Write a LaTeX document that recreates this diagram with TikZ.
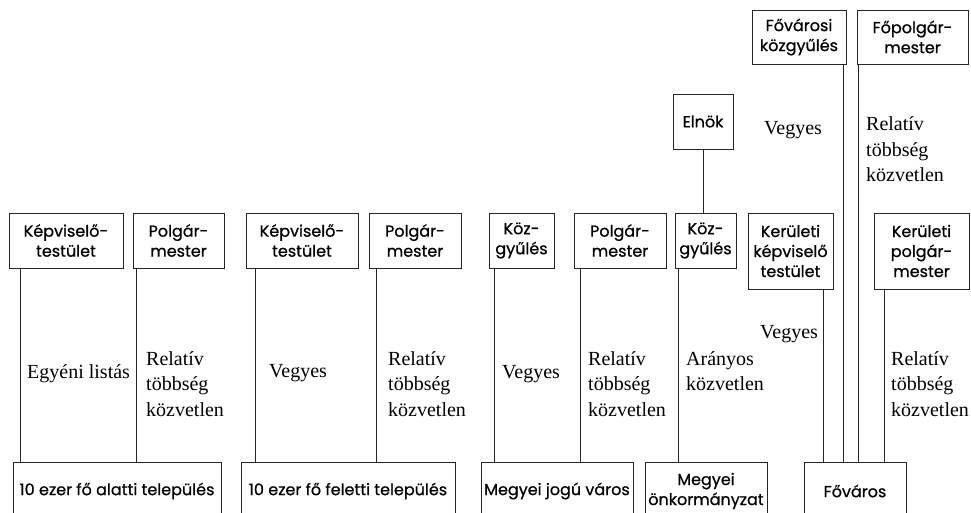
\documentclass[tikz,border=0pt]{standalone}
\usepackage{fontspec}
\setmainfont{Liberation Serif}
\newfontfamily\boxfont[FakeBold=0.7]{Poppins}
\begin{document}
\begin{tikzpicture}[x=1pt,y=-1pt,
  box/.style={draw=black!85, line width=0.9pt, align=center, inner sep=0pt, font=\boxfont\fontsize{16}{20}\selectfont},
  top/.style={box, minimum height=55},
  tall/.style={box, minimum height=76},
  bot/.style={box, minimum height=58},
  lbl/.style={anchor=base west, inner sep=0pt, align=left, font=\fontsize{20}{25.5}\selectfont},
  conn/.style={draw=black!85, line width=0.9pt}]
\useasboundingbox (0,0) rectangle (971,513);
\clip (0,0) rectangle (971,513);
% upper boxes
\node[top, minimum width=114] (A1) at (66,240.5) {Képviselő-\\testület};
\node[top, minimum width=91] (A2) at (178.5,240.5) {Polgár-\\mester};
\node[top, minimum width=112] (B1) at (302,240.5) {Képviselő-\\testület};
\node[top, minimum width=92] (B2) at (415,240.5) {Polgár-\\mester};
\node[top, minimum width=65] (C1) at (521.5,240.5) {Köz-\\gyűlés};
\node[top, minimum width=92] (C2) at (620,240.5) {Polgár-\\mester};
\node[top, minimum width=61] (D1) at (705.5,240.5) {Köz-\\gyűlés};
\node[tall, minimum width=85] (E1) at (790.5,251) {Kerületi\\képviselő\\testület};
\node[tall, minimum width=95] (E2) at (921.5,251) {Kerületi\\polgár-\\mester};
\node[top, minimum width=60] (EL) at (703,121.5) {Elnök};
\node[top, minimum width=94, minimum height=54] (FK) at (799,37) {Fővárosi\\közgyűlés};
\node[top, minimum width=111, minimum height=54] (FP) at (912.5,37) {Főpolgár-\\mester};
% lower boxes
\node[bot, minimum width=208] (X1) at (117,491) {10 ezer fő alatti település};
\node[bot, minimum width=214] (X2) at (348,491) {10 ezer fő feletti település};
\node[bot, minimum width=152] (X3) at (557,491) {Megyei jogú város};
\node[bot, minimum width=122] (X4) at (706,491) {Megyei\\önkormányzat};
\node[bot, minimum width=102] (X5) at (855,491) {Főváros};
% connectors
\draw[conn] ([xshift=12]A1.south west) -- ([xshift=12]A1.south west |- X1.north);
\draw[conn] ([xshift=4]A2.south west) -- ([xshift=4]A2.south west |- X1.north);
\draw[conn] ([xshift=10]B1.south west) -- ([xshift=10]B1.south west |- X2.north);
\draw[conn] ([xshift=8]B2.south west) -- ([xshift=8]B2.south west |- X2.north);
\draw[conn] ([xshift=6]C1.south west) -- ([xshift=6]C1.south west |- X3.north);
\draw[conn] ([xshift=7]C2.south west) -- ([xshift=7]C2.south west |- X3.north);
\draw[conn] ([xshift=4]D1.south west) -- ([xshift=4]D1.south west |- X4.north);
\draw[conn] (EL.south) -- (EL.south |- D1.north);
\draw[conn] ([xshift=-10]E1.south east) -- ([xshift=-10]E1.south east |- X5.north);
\draw[conn] ([xshift=-3]FK.south east) -- ([xshift=-3]FK.south east |- X5.north);
\draw[conn] ([xshift=2]FP.south west) -- ([xshift=2]FP.south west |- X5.north);
\draw[conn] ([xshift=11]E2.south west) -- ([xshift=11]E2.south west |- X5.north);
% labels (base anchor = baseline of the last line)
\node[lbl] (l1) at (27,378) {Egyéni listás};
\node[lbl] (l2) at (146,416) {Relatív\\többség\\közvetlen};
\node[lbl] (l3) at (269,377) {Vegyes};
\node[lbl] (l4) at (388,416) {Relatív\\többség\\közvetlen};
\node[lbl] (l5) at (502,378) {Vegyes};
\node[lbl] (l6) at (588,416) {Relatív\\többség\\közvetlen};
\node[lbl] (l7) at (686,390.5) {Arányos\\közvetlen};
\node[lbl] (l8) at (760,338) {Vegyes};
\node[lbl] (l9) at (891,416) {Relatív\\többség\\közvetlen};
\node[lbl] (l10) at (764,135) {Vegyes};
\node[lbl] (l11) at (866,182) {Relatív\\többség\\közvetlen};
\end{tikzpicture}
\end{document}
